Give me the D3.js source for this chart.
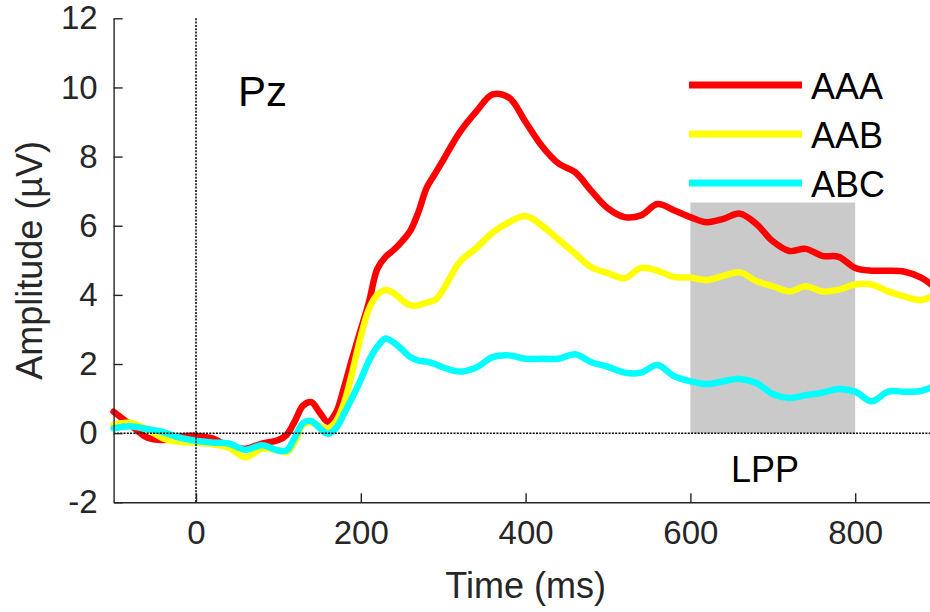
<!DOCTYPE html>
<meta charset="utf-8">
<style type="text/css">

body {
  margin: 0;
  background: #ffffff;
  font-family: 'Liberation Sans', Arial, sans-serif;
}

.axis path, .axis line {
  stroke: #262626;
  stroke-width: 1.4;
}

.axis text {
  fill: #262626;
  font-size: 33px;
  font-family: 'Liberation Sans', Arial, sans-serif;
}

.lbl {
  fill: #262626;
  font-size: 36px;
}

.erp {
  fill: none;
  stroke-width: 6.5;
  stroke-linejoin: round;
  stroke-linecap: round;
}

.zero {
  stroke: #000000;
  stroke-width: 1.5;
  stroke-dasharray: 2,1.3;
}

</style>
<head>
  <script src="https://cdnjs.cloudflare.com/ajax/libs/d3/7.8.5/d3.min.js"></script>
</head>
<body>
  <div class="g-chart"></div>
<script type="text/javascript">

// time points (ms)
var times = [-100,-80,-60,-40,-20,0,20,40,60,80,100,
  110,120,130,140,150,160,170,180,190,200,210,220,230,240,250,260,270,280,290,300,
  320,340,360,380,400,420,440,460,480,500,520,540,560,580,600,620,640,660,680,700,
  720,740,760,780,800,820,840,860,880,900];

// amplitudes (uV)
var aaa = [0.62,0.25,-0.12,-0.2,-0.1,-0.08,-0.15,-0.38,-0.45,-0.3,-0.2,
  -0.05,0.35,0.8,0.9,0.6,0.33,0.6,1.35,2.2,3.0,3.8,4.75,5.1,5.3,5.55,5.85,6.4,7.1,7.5,7.9,
  8.7,9.3,9.8,9.7,9.0,8.3,7.8,7.55,7.0,6.5,6.25,6.3,6.63,6.45,6.25,6.1,6.2,6.35,6.05,5.55,
  5.27,5.33,5.13,5.1,4.78,4.7,4.7,4.67,4.5,4.15];

var aab = [0.24,0.3,0.12,-0.15,-0.25,-0.28,-0.32,-0.42,-0.7,-0.45,-0.5,
  -0.55,-0.25,0.25,0.3,0.2,0.14,0.35,0.9,1.8,2.8,3.6,4.0,4.14,4.05,3.85,3.7,3.7,3.78,3.85,4.15,
  4.95,5.35,5.8,6.1,6.28,6.0,5.6,5.2,4.8,4.63,4.48,4.78,4.7,4.52,4.5,4.43,4.55,4.65,4.4,4.25,
  4.1,4.25,4.1,4.15,4.3,4.3,4.1,3.95,3.85,4.05];

var abc = [0.14,0.2,0.12,0.03,-0.13,-0.22,-0.27,-0.3,-0.48,-0.35,-0.5,
  -0.5,-0.12,0.3,0.35,0.15,-0.02,0.15,0.58,1.05,1.55,2.1,2.5,2.74,2.62,2.42,2.2,2.1,2.07,2.0,1.9,
  1.78,1.9,2.2,2.25,2.15,2.15,2.15,2.28,2.05,1.92,1.75,1.75,1.97,1.65,1.5,1.42,1.5,1.57,1.45,1.13,
  1.02,1.1,1.17,1.28,1.2,0.92,1.2,1.2,1.22,1.4];

var conditions = ["AAA", "AAB", "ABC"];
var colors = ["#ff0000", "#ffff00", "#00ffff"];
var xTicks = [0, 200, 400, 600, 800];
var yTicks = [-2, 0, 2, 4, 6, 8, 10, 12];
var lppWindow = [600, 800];
var lppTop = 6.67;

var width = 930, height = 612;

var x = d3.scaleLinear().domain([-100, 900]).range([113.6, 937.6]);
var y = d3.scaleLinear().domain([-2, 12]).range([502.3, 18.3]);

var svg = d3.select(".g-chart").append("svg")
  .attr("width", width)
  .attr("height", height);

//LPP window
svg.append("rect")
  .attr("x", x(lppWindow[0]))
  .attr("y", y(lppTop))
  .attr("width", x(lppWindow[1]) - x(lppWindow[0]))
  .attr("height", y(0) - y(lppTop))
  .style("fill", "#cacaca");

//ERP traces
var line = d3.line()
  .x(function(d) { return x(d[0]); })
  .y(function(d) { return y(d[1]); })
  .curve(d3.curveCatmullRom);

[aaa, aab, abc].forEach(function(vals, i) {
  svg.append("path")
    .attr("class", "erp")
    .attr("d", line(times.map(function(t, j) { return [t, vals[j]]; })))
    .style("stroke", colors[i]);
});

//zero lines
svg.append("line")
  .attr("class", "zero")
  .attr("x1", x(0)).attr("x2", x(0))
  .attr("y1", y(12)).attr("y2", y(-2));
svg.append("line")
  .attr("class", "zero")
  .attr("x1", x(-100)).attr("x2", x(900))
  .attr("y1", y(0)).attr("y2", y(0));

//axes (plain hyphen for negatives, like the original)
var fmt = function(d) { return String(d); };
var xAxis = d3.axisBottom(x).tickValues(xTicks).tickFormat(fmt).tickSizeInner(-9).tickSizeOuter(0).tickPadding(18);
var yAxis = d3.axisLeft(y).tickValues(yTicks).tickFormat(fmt).tickSizeInner(-9).tickSizeOuter(0).tickPadding(16);

svg.append("g").attr("class", "axis")
  .attr("transform", "translate(0," + y(-2) + ")")
  .call(xAxis);
svg.append("g").attr("class", "axis")
  .attr("transform", "translate(" + x(-100) + ",0)")
  .call(yAxis);

svg.selectAll(".axis text").attr("fill", "#262626");

//axis labels
svg.append("text")
  .attr("class", "lbl")
  .attr("x", (x(-100) + x(900)) / 2)
  .attr("y", 598)
  .attr("text-anchor", "middle")
  .text("Time (ms)");

svg.append("text")
  .attr("class", "lbl")
  .attr("transform", "translate(42," + (y(-2) + y(12)) / 2 + ") rotate(-90)")
  .attr("text-anchor", "middle")
  .text("Amplitude (µV)");

//electrode + window labels
svg.append("text")
  .attr("x", 238)
  .attr("y", 106)
  .style("font-size", "42px")
  .style("fill", "#000")
  .text("Pz");

svg.append("text")
  .attr("x", 731)
  .attr("y", 482)
  .style("font-size", "36px")
  .style("fill", "#000")
  .text("LPP");

//legend
var legend = svg.append("g").selectAll("g")
  .data(conditions)
  .enter().append("g")
  .attr("transform", function(d, i) { return "translate(0," + (85 + i * 49) + ")"; });

legend.append("line")
  .attr("x1", 689).attr("x2", 802)
  .attr("y1", 0).attr("y2", 0)
  .style("stroke", function(d, i) { return colors[i]; })
  .style("stroke-width", 7);

legend.append("text")
  .attr("x", 811)
  .attr("y", 14)
  .style("font-size", "36px")
  .style("fill", "#000")
  .text(function(d) { return d; });

</script>
</body>
